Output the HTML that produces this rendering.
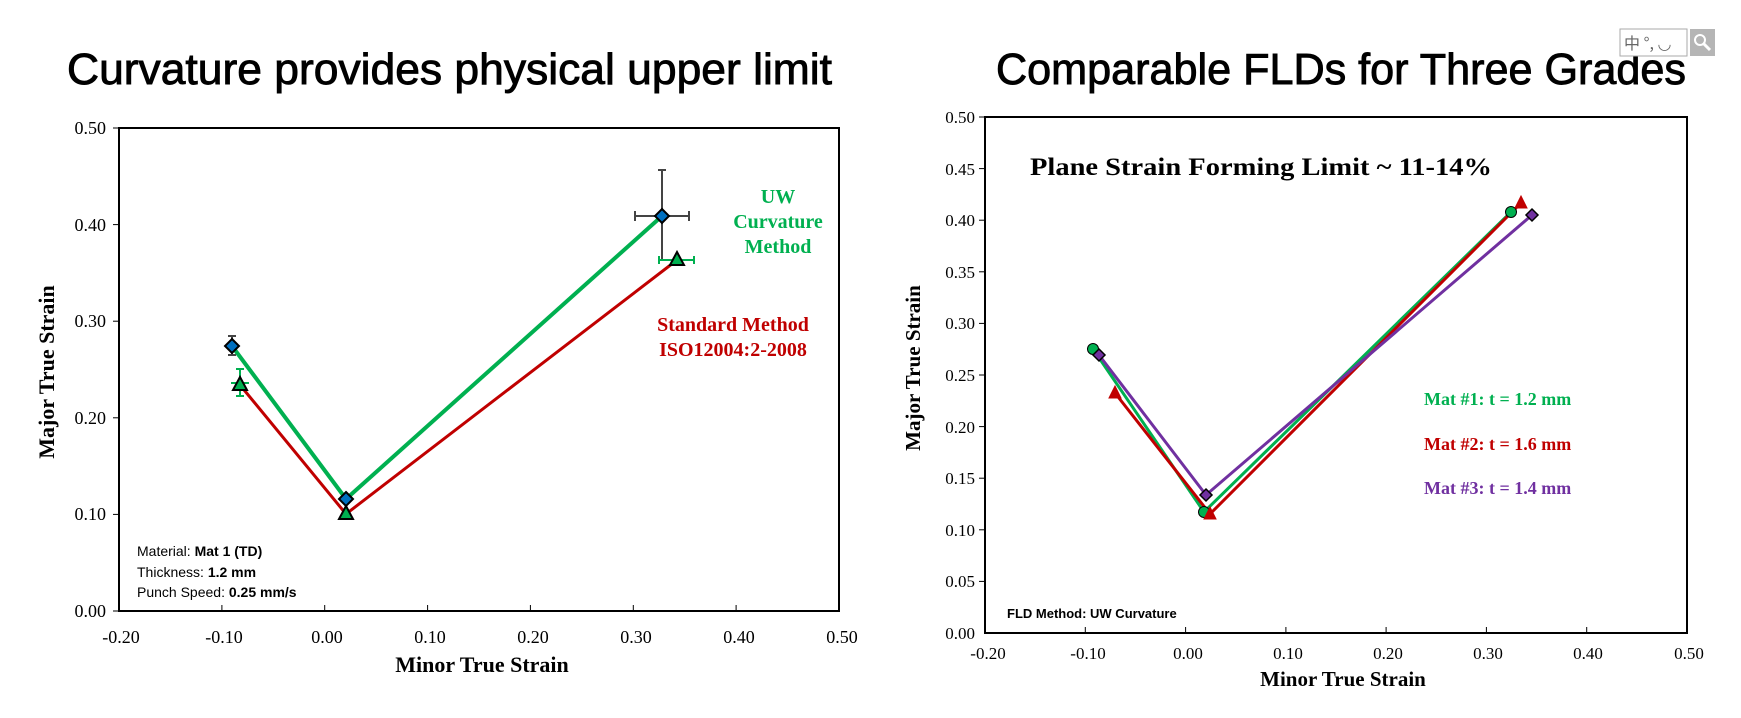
<!DOCTYPE html>
<html><head><meta charset="utf-8"><style>body{margin:0;background:#fff}svg{display:block}</style></head><body>
<svg width="1741" height="718" viewBox="0 0 1741 718" xmlns="http://www.w3.org/2000/svg">
<rect width="1741" height="718" fill="#fff"/>
<!-- Titles -->
<text x="67" y="84" font-family="Liberation Sans, sans-serif" font-size="44" stroke="#000" stroke-width="0.9" textLength="765" lengthAdjust="spacingAndGlyphs">Curvature provides physical upper limit</text>
<text x="996" y="84" font-family="Liberation Sans, sans-serif" font-size="44" stroke="#000" stroke-width="0.9" textLength="690" lengthAdjust="spacingAndGlyphs">Comparable FLDs for Three Grades</text>
<!-- IME widget -->
<rect x="1620" y="29" width="67" height="27" fill="#fff" stroke="#aaa"/>
<text x="1624" y="49" font-family="Noto Sans CJK SC, sans-serif" font-size="16" fill="#666">中 °, ◡</text>
<rect x="1690" y="29" width="25" height="27" fill="#b5b5b5"/>
<circle cx="1700" cy="40" r="5" fill="none" stroke="#fff" stroke-width="2"/>
<line x1="1704" y1="44" x2="1710" y2="50" stroke="#fff" stroke-width="3"/>

<!-- LEFT CHART -->
<g font-family="Liberation Serif, serif" font-size="18">
<rect x="119" y="128" width="720" height="483" fill="none" stroke="#000" stroke-width="2"/>
<g stroke="#000" stroke-width="1">
<line x1="113" y1="128" x2="119" y2="128"/><line x1="113" y1="224.6" x2="119" y2="224.6"/><line x1="113" y1="321.2" x2="119" y2="321.2"/><line x1="113" y1="417.8" x2="119" y2="417.8"/><line x1="113" y1="514.4" x2="119" y2="514.4"/><line x1="113" y1="611" x2="119" y2="611"/>
<line x1="221.9" y1="605" x2="221.9" y2="611"/><line x1="324.7" y1="605" x2="324.7" y2="611"/><line x1="427.6" y1="605" x2="427.6" y2="611"/><line x1="530.4" y1="605" x2="530.4" y2="611"/><line x1="633.3" y1="605" x2="633.3" y2="611"/><line x1="736.1" y1="605" x2="736.1" y2="611"/>
</g>
<g text-anchor="end"><text x="106" y="134">0.50</text><text x="106" y="231">0.40</text><text x="106" y="327">0.30</text><text x="106" y="424">0.20</text><text x="106" y="520">0.10</text><text x="106" y="617">0.00</text></g>
<g text-anchor="middle"><text x="121" y="643">-0.20</text><text x="224" y="643">-0.10</text><text x="327" y="643">0.00</text><text x="430" y="643">0.10</text><text x="533" y="643">0.20</text><text x="636" y="643">0.30</text><text x="739" y="643">0.40</text><text x="842" y="643">0.50</text></g>
<text x="482" y="672" text-anchor="middle" font-weight="bold" font-size="22">Minor True Strain</text>
<text transform="translate(54,372) rotate(-90)" text-anchor="middle" font-weight="bold" font-size="22">Major True Strain</text>
<g font-weight="bold" font-size="20" text-anchor="middle" fill="#00B050"><text x="778" y="203">UW</text><text x="778" y="228">Curvature</text><text x="778" y="253">Method</text></g>
<g font-weight="bold" font-size="20" text-anchor="middle" fill="#C00000"><text x="733" y="331">Standard Method</text><text x="733" y="356">ISO12004:2-2008</text></g>
</g>
<g font-family="Liberation Sans, sans-serif" font-size="14">
<text x="137" y="556">Material: <tspan font-weight="bold">Mat 1 (TD)</tspan></text>
<text x="137" y="577">Thickness: <tspan font-weight="bold">1.2 mm</tspan></text>
<text x="137" y="597">Punch Speed: <tspan font-weight="bold">0.25 mm/s</tspan></text>
</g>
<polyline points="240,385 346,514 677,260" fill="none" stroke="#C00000" stroke-width="3"/>
<polyline points="232,346 346,499 662,216" fill="none" stroke="#00B050" stroke-width="4"/>
<g stroke="#444" stroke-width="2">
<line x1="635" y1="216" x2="689" y2="216"/><line x1="635" y1="211" x2="635" y2="221"/><line x1="689" y1="211" x2="689" y2="221"/>
<line x1="662" y1="170" x2="662" y2="260"/><line x1="658" y1="170" x2="666" y2="170"/>
<line x1="232" y1="336" x2="232" y2="355"/><line x1="228" y1="336" x2="236" y2="336"/><line x1="228" y1="355" x2="236" y2="355"/>
</g>
<g stroke="#00B050" stroke-width="2">
<line x1="231" y1="383" x2="249" y2="383"/><line x1="240" y1="369" x2="240" y2="396"/><line x1="236" y1="369" x2="244" y2="369"/><line x1="236" y1="396" x2="244" y2="396"/>
<line x1="659" y1="260" x2="694" y2="260"/><line x1="694" y1="256" x2="694" y2="264"/><line x1="659" y1="256" x2="659" y2="264"/>
</g>
<g fill="#00B050" stroke="#000" stroke-width="2">
<polygon points="240,377 247,390 233,390"/><polygon points="346,506 353,519 339,519"/><polygon points="677,252 684,265 670,265"/>
</g>
<g fill="#0070C0" stroke="#000" stroke-width="2">
<polygon points="232,339 239,346 232,353 225,346"/><polygon points="346,492 353,499 346,506 339,499"/><polygon points="662,209 669,216 662,223 655,216"/>
</g>

<!-- RIGHT CHART -->
<g font-family="Liberation Serif, serif" font-size="17">
<rect x="985" y="117" width="702" height="516" fill="none" stroke="#000" stroke-width="2"/>
<g stroke="#000" stroke-width="1">
<line x1="979" y1="117" x2="985" y2="117"/><line x1="979" y1="168.6" x2="985" y2="168.6"/><line x1="979" y1="220.2" x2="985" y2="220.2"/><line x1="979" y1="271.8" x2="985" y2="271.8"/><line x1="979" y1="323.4" x2="985" y2="323.4"/><line x1="979" y1="375" x2="985" y2="375"/><line x1="979" y1="426.6" x2="985" y2="426.6"/><line x1="979" y1="478.2" x2="985" y2="478.2"/><line x1="979" y1="529.8" x2="985" y2="529.8"/><line x1="979" y1="581.4" x2="985" y2="581.4"/>
<line x1="1085.3" y1="627" x2="1085.3" y2="633"/><line x1="1185.6" y1="627" x2="1185.6" y2="633"/><line x1="1285.9" y1="627" x2="1285.9" y2="633"/><line x1="1386.1" y1="627" x2="1386.1" y2="633"/><line x1="1486.4" y1="627" x2="1486.4" y2="633"/><line x1="1586.7" y1="627" x2="1586.7" y2="633"/>
</g>
<g text-anchor="end"><text x="975" y="123">0.50</text><text x="975" y="175">0.45</text><text x="975" y="226">0.40</text><text x="975" y="278">0.35</text><text x="975" y="329">0.30</text><text x="975" y="381">0.25</text><text x="975" y="433">0.20</text><text x="975" y="484">0.15</text><text x="975" y="536">0.10</text><text x="975" y="587">0.05</text><text x="975" y="639">0.00</text></g>
<g text-anchor="middle"><text x="988" y="659">-0.20</text><text x="1088" y="659">-0.10</text><text x="1188" y="659">0.00</text><text x="1288" y="659">0.10</text><text x="1388" y="659">0.20</text><text x="1488" y="659">0.30</text><text x="1588" y="659">0.40</text><text x="1689" y="659">0.50</text></g>
<text x="1343" y="686" text-anchor="middle" font-weight="bold" font-size="21">Minor True Strain</text>
<text transform="translate(920,368) rotate(-90)" text-anchor="middle" font-weight="bold" font-size="21">Major True Strain</text>
<text x="1030" y="175" font-weight="bold" font-size="25" textLength="462" lengthAdjust="spacingAndGlyphs">Plane Strain Forming Limit ~ 11-14%</text>
<g font-weight="bold" font-size="18"><text x="1424" y="405" fill="#00B050">Mat #1: t = 1.2 mm</text><text x="1424" y="450" fill="#C00000">Mat #2: t = 1.6 mm</text><text x="1424" y="494" fill="#7030A0">Mat #3: t = 1.4 mm</text></g>
</g>
<text x="1007" y="618" font-family="Liberation Sans, sans-serif" font-weight="bold" font-size="13">FLD Method: UW Curvature</text>
<polyline points="1093,349 1204,512 1511,212" fill="none" stroke="#00B050" stroke-width="3"/>
<polyline points="1115,393 1210,514 1521,203" fill="none" stroke="#C00000" stroke-width="3"/>
<polyline points="1099,355 1206,495 1532,215" fill="none" stroke="#7030A0" stroke-width="3"/>
<g fill="#00B050" stroke="#000" stroke-width="1"><circle cx="1093" cy="349" r="5.5"/><circle cx="1204" cy="512" r="5.5"/><circle cx="1511" cy="212" r="5.5"/></g>
<g fill="#C00000" stroke="#C00000" stroke-width="1"><polygon points="1115,386 1121,398 1109,398"/><polygon points="1210,507 1216,519 1204,519"/><polygon points="1521,196 1527,208 1515,208"/></g>
<g fill="#7030A0" stroke="#000" stroke-width="1.5"><polygon points="1099,349 1105,355 1099,361 1093,355"/><polygon points="1206,489 1212,495 1206,501 1200,495"/><polygon points="1532,209 1538,215 1532,221 1526,215"/></g>
</svg>
</body></html>
